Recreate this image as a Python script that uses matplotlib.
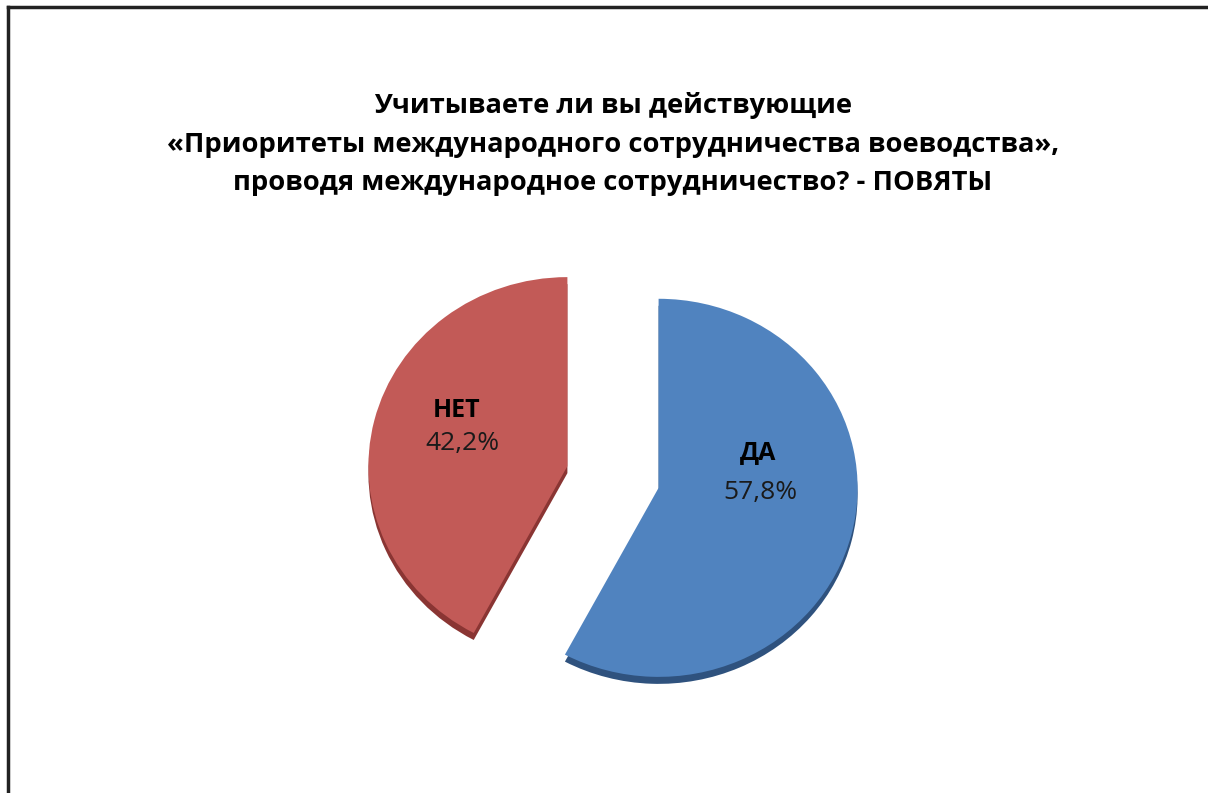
import numpy as np
import matplotlib.pyplot as plt
from matplotlib.lines import Line2D

labels = ["ДА", "НЕТ"]
values = [57.8, 42.2]
pct_text = ["57,8%", "42,2%"]
colors = ["#5083BF", "#C25A57"]
side_colors = ["#2F527E", "#8A3533"]
title = ("Учитываете ли вы действующие\n"
         "«Приоритеты международного сотрудничества воеводства»,\n"
         "проводя международное сотрудничество? - ПОВЯТЫ")

plt.rcParams['font.family'] = ['Open Sans', 'DejaVu Sans']

W, H = 1208, 793
fig = plt.figure(figsize=(W / 100, H / 100), dpi=100)
ax = fig.add_axes([0, 0, 1, 1])

sy = 0.95  # vertical squash of the tilted pie
cx, cy = 613, (H - 477) / sy
r = 199
expl = [47, 47]  # explode is in data units here

# side wall, drawn slightly lower underneath
ax.pie(values, colors=side_colors, startangle=90, counterclock=False,
       explode=expl, radius=r, center=(cx, cy - 7 / sy),
       wedgeprops=dict(linewidth=0))
ax.pie(values, colors=colors, startangle=90, counterclock=False,
       explode=expl, radius=r, center=(cx, cy),
       wedgeprops=dict(linewidth=0))

ax.set_aspect('auto')
ax.set_xlim(0, W)
ax.set_ylim(0, H / sy)
ax.axis('off')

# data labels
lab_pos = [(758, 453, 760, 492), (457, 410, 462, 443)]
for i, (lx, ly, px, py) in enumerate(lab_pos):
    ax.text(lx, (H - ly) / sy, labels[i], ha='center', va='center',
            fontsize=18, fontweight='bold', color='black')
    ax.text(px, (H - py) / sy, pct_text[i], ha='center', va='center',
            fontsize=19, color='#1a1a1a')

fig.text(613 / W, 1 - 144 / H, title, ha='center', va='center',
         fontsize=19.7, fontweight='bold', linespacing=1.63)

# chart frame (left and top sides visible)
fig.add_artist(Line2D([8 / W, 8 / W], [0, 1 - 7 / H], color='#222222', lw=2.5))
fig.add_artist(Line2D([8 / W, 1], [1 - 7 / H, 1 - 7 / H], color='#222222', lw=2.5))

fig.savefig("out.png", dpi=100, facecolor='white')
